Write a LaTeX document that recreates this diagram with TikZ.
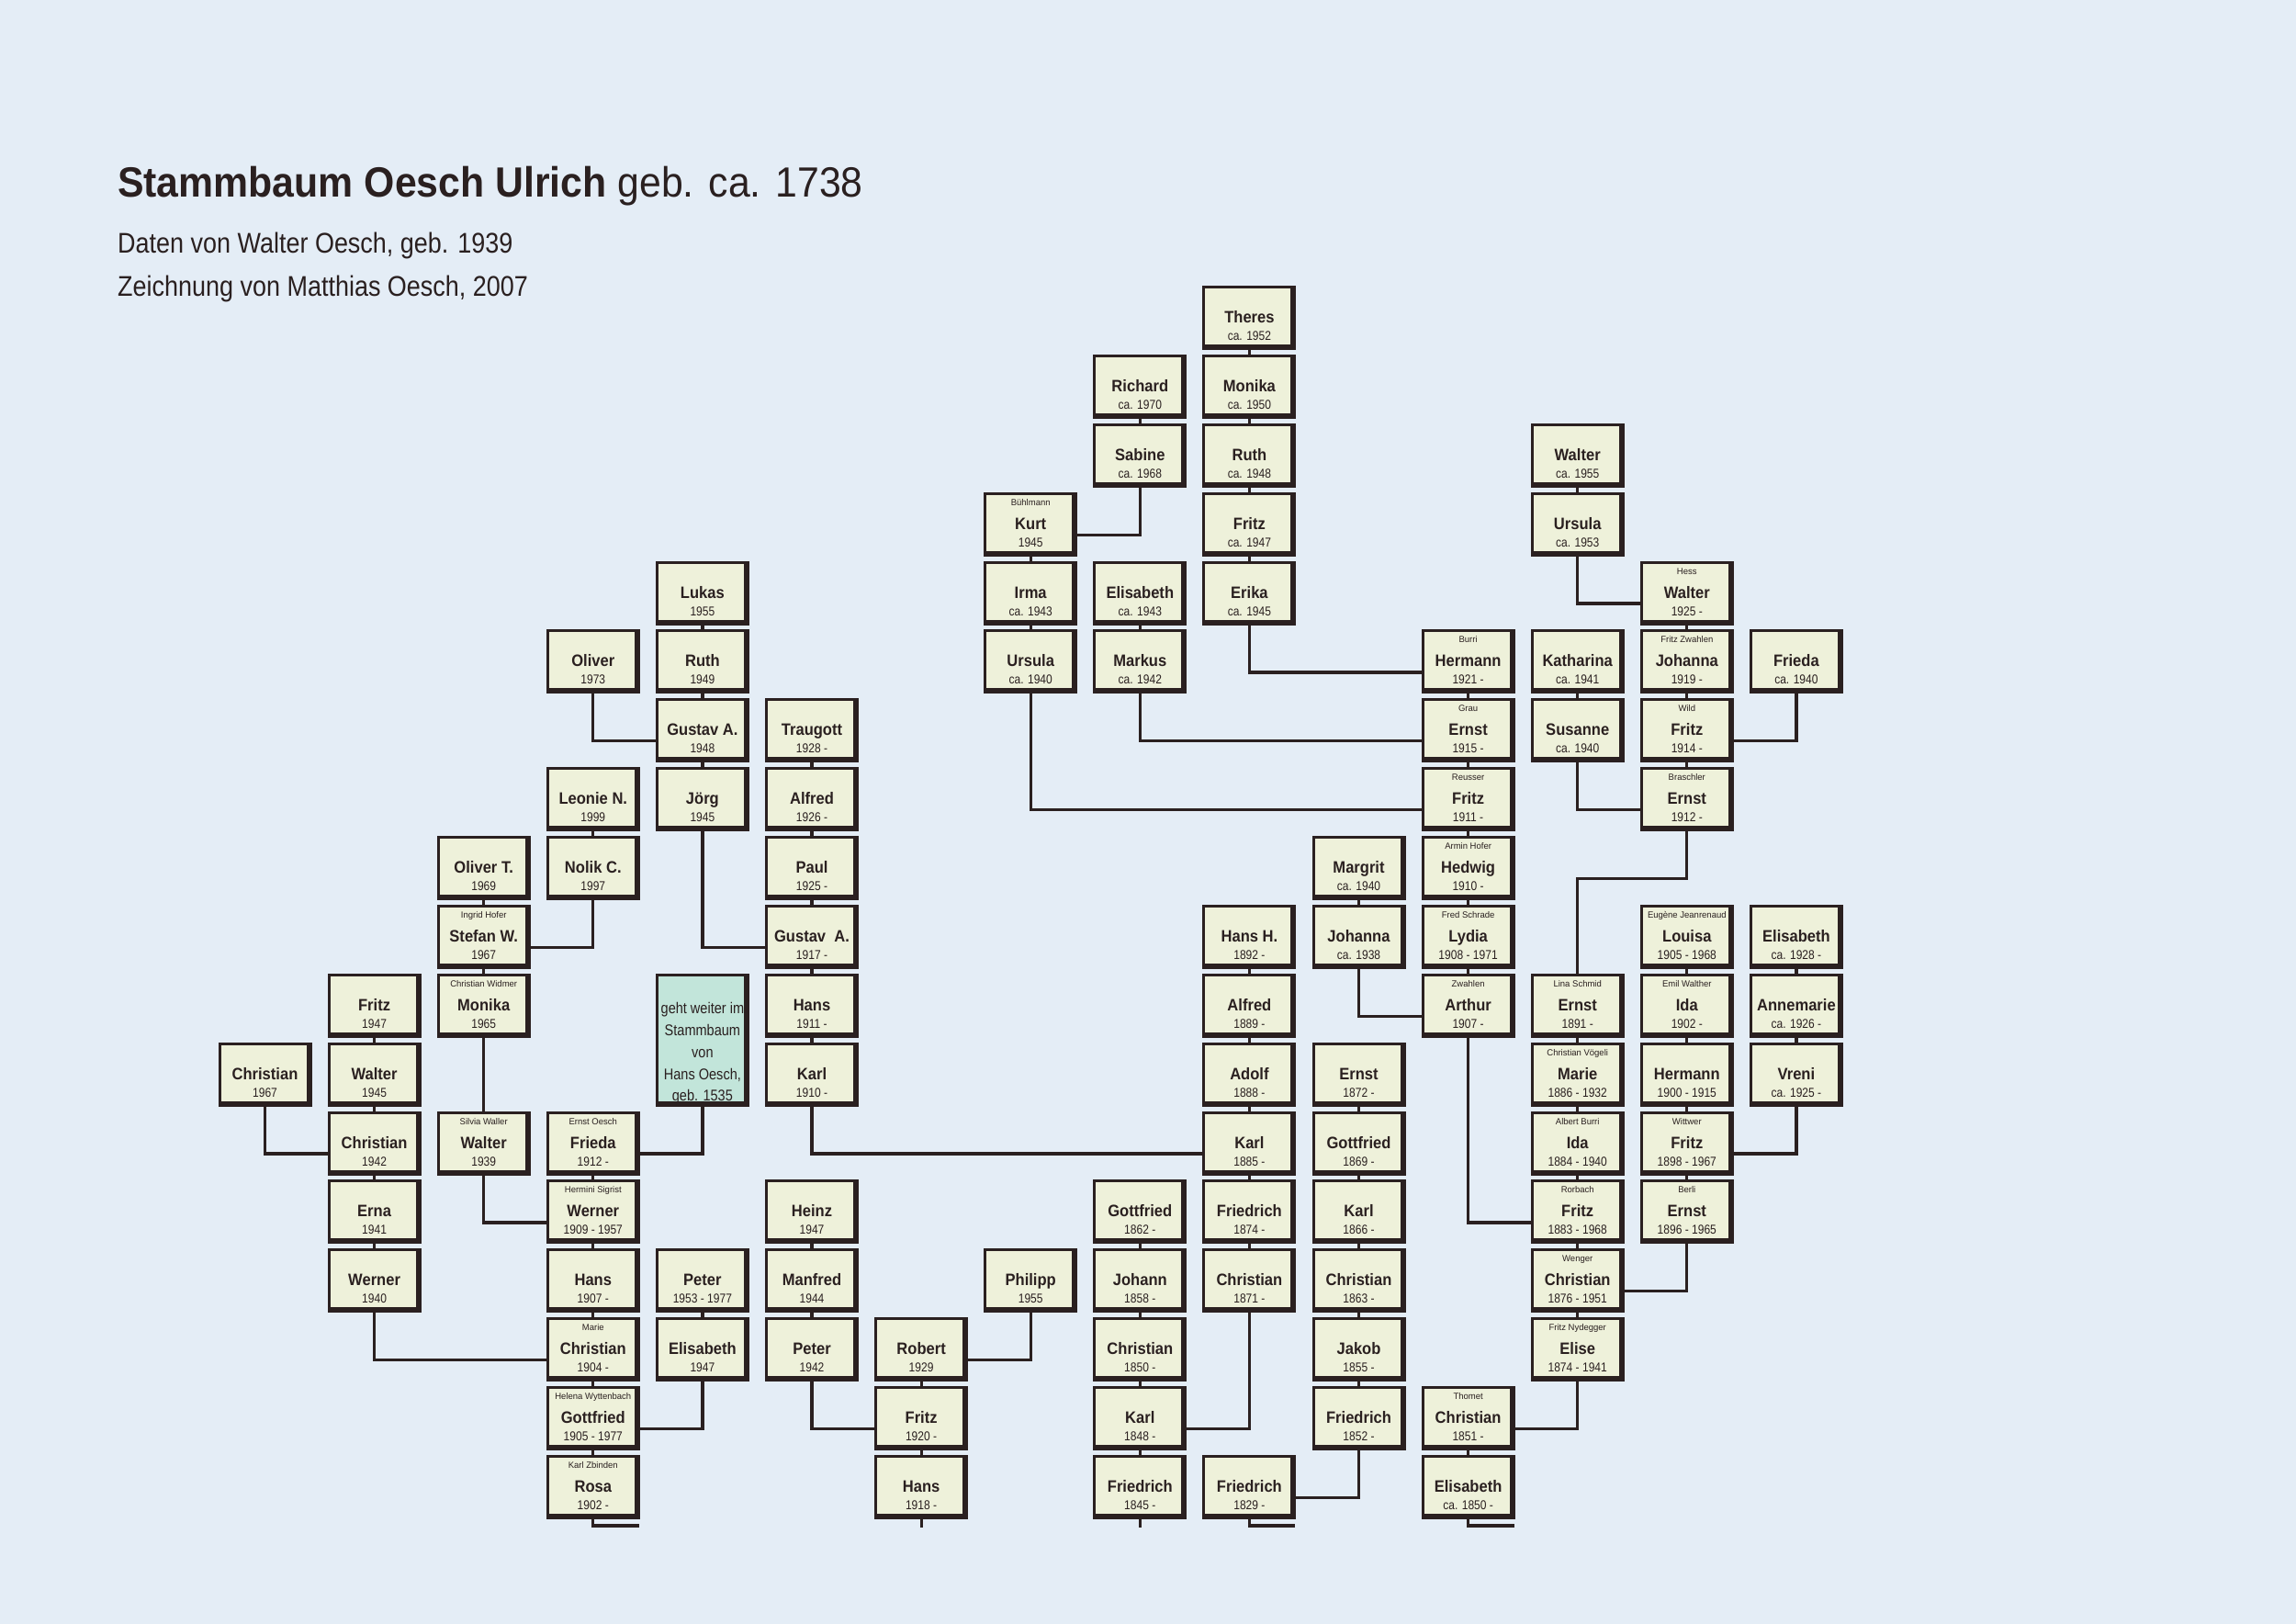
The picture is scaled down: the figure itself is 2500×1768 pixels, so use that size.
\documentclass[tikz,border=0pt]{standalone}
\usepackage{fontspec}
\setmainfont{Liberation Sans}[FakeStretch=0.86]
\newfontfamily\fname{Liberation Sans}[FakeStretch=0.92]
\newfontfamily\flabel{Liberation Sans}[FakeStretch=0.98]
\newfontfamily\ftitle{Liberation Sans}[FakeStretch=0.93]
\newfontfamily\fsubt{Liberation Sans}[FakeStretch=0.87]
\usetikzlibrary{backgrounds}
\definecolor{pagebg}{HTML}{E4EDF6}
\definecolor{boxfill}{HTML}{EEF1DA}
\definecolor{framecol}{HTML}{2A2020}
\definecolor{tealfill}{HTML}{C2E5DA}
\tikzset{
  pbox/.style={draw=framecol, line width=3pt, fill=boxfill, minimum width=99pt, minimum height=67pt, inner sep=0pt,
    path picture={
      \fill[framecol] ([xshift=-4.5pt]path picture bounding box.north east) rectangle (path picture bounding box.south east);
      \fill[framecol] ([yshift=4.5pt]path picture bounding box.south west) rectangle (path picture bounding box.south east);
    }},
  tbox/.style={pbox, fill=tealfill, minimum height=141.9pt},
  lbl/.style={font=\flabel\fontsize{9.7}{9.7}\selectfont, anchor=base, inner sep=0pt, text=framecol},
  nm/.style={font=\fname\bfseries\fontsize{18}{18}\selectfont, anchor=base, inner sep=0pt, text=framecol},
  yr/.style={font=\fontsize{14}{14}\selectfont, anchor=base, inner sep=0pt, text=framecol},
  conn/.style={draw=framecol, line width=3.2pt},
}
\newcommand\person[6]{%
  \node[pbox] (#1) at ({288.5+119.1*#2},{346+74.88*#3}) {};
  \node[lbl] (#1-l) at ([yshift=20.5pt]#1.center) {#4};
  \node[nm] (#1-n) at ([yshift=-5.5pt]#1.center) {#5};
  \node[yr] (#1-y) at ([yshift=-24.5pt]#1.center) {#6};
}
\begin{document}
\begin{tikzpicture}[x=1pt,y=-1pt]
\useasboundingbox (0,0) rectangle (2500,1768);
\begin{scope}[on background layer]
  \fill[pagebg] (0,0) rectangle (2500,1768);
\end{scope}
% title
\node[anchor=base west, inner sep=0pt, text=framecol, font=\ftitle\fontsize{46}{46}\selectfont] (title) at (128,215) {\textbf{Stammbaum Oesch Ulrich} geb. ca. 1738};
\node[anchor=base west, inner sep=0pt, text=framecol, font=\fsubt\fontsize{31}{31}\selectfont] (sub1) at (128,276) {Daten von Walter Oesch, geb. 1939};
\node[anchor=base west, inner sep=0pt, text=framecol, font=\fsubt\fontsize{31}{31}\selectfont] (sub2) at (128,323) {Zeichnung von Matthias Oesch, 2007};

% column 9 top
\person{theres}{9}{0}{}{Theres}{ca. 1952}
\person{monika50}{9}{1}{}{Monika}{ca. 1950}
\person{ruth48}{9}{2}{}{Ruth}{ca. 1948}
\person{fritz47}{9}{3}{}{Fritz}{ca. 1947}
\person{erika}{9}{4}{}{Erika}{ca. 1945}
% column 8 top
\person{richard}{8}{1}{}{Richard}{ca. 1970}
\person{sabine}{8}{2}{}{Sabine}{ca. 1968}
\person{elis43}{8}{4}{}{Elisabeth}{ca. 1943}
\person{markus}{8}{5}{}{Markus}{ca. 1942}
% column 7 top
\person{kurt}{7}{3}{Bühlmann}{Kurt}{1945}
\person{irma}{7}{4}{}{Irma}{ca. 1943}
\person{urs40}{7}{5}{}{Ursula}{ca. 1940}
% column 12 top
\person{walt55}{12}{2}{}{Walter}{ca. 1955}
\person{urs53}{12}{3}{}{Ursula}{ca. 1953}
\person{kath}{12}{5}{}{Katharina}{ca. 1941}
\person{sus}{12}{6}{}{Susanne}{ca. 1940}
% column 13 top
\person{hess}{13}{4}{Hess}{Walter}{1925 -}
\person{joh19}{13}{5}{Fritz Zwahlen}{Johanna}{1919 -}
\person{wild}{13}{6}{Wild}{Fritz}{1914 -}
\person{brasch}{13}{7}{Braschler}{Ernst}{1912 -}
\person{frieda40}{14}{5}{}{Frieda}{ca. 1940}
% column 11
\person{burri}{11}{5}{Burri}{Hermann}{1921 -}
\person{grau}{11}{6}{Grau}{Ernst}{1915 -}
\person{reusser}{11}{7}{Reusser}{Fritz}{1911 -}
\person{hedwig}{11}{8}{Armin Hofer}{Hedwig}{1910 -}
\person{lydia}{11}{9}{Fred Schrade}{Lydia}{1908 - 1971}
\person{arthur}{11}{10}{Zwahlen}{Arthur}{1907 -}
\person{thomet}{11}{16}{Thomet}{Christian}{1851 -}
\person{elis50}{11}{17}{}{Elisabeth}{ca. 1850 -}
% column 10
\person{margrit}{10}{8}{}{Margrit}{ca. 1940}
\person{joh38}{10}{9}{}{Johanna}{ca. 1938}
\person{ernst72}{10}{11}{}{Ernst}{1872 -}
\person{gott69}{10}{12}{}{Gottfried}{1869 -}
\person{karl66}{10}{13}{}{Karl}{1866 -}
\person{chr63}{10}{14}{}{Christian}{1863 -}
\person{jakob}{10}{15}{}{Jakob}{1855 -}
\person{fried52}{10}{16}{}{Friedrich}{1852 -}
% column 9 lower
\person{hansh}{9}{9}{}{Hans H.}{1892 -}
\person{alfred89}{9}{10}{}{Alfred}{1889 -}
\person{adolf}{9}{11}{}{Adolf}{1888 -}
\person{karl85}{9}{12}{}{Karl}{1885 -}
\person{fried74}{9}{13}{}{Friedrich}{1874 -}
\person{chr71}{9}{14}{}{Christian}{1871 -}
\person{fried29}{9}{17}{}{Friedrich}{1829 -}
% column 8 lower
\person{gott62}{8}{13}{}{Gottfried}{1862 -}
\person{johann}{8}{14}{}{Johann}{1858 -}
\person{chr50}{8}{15}{}{Christian}{1850 -}
\person{karl48}{8}{16}{}{Karl}{1848 -}
\person{fried45}{8}{17}{}{Friedrich}{1845 -}
% column 12 lower
\person{ernst91}{12}{10}{Lina Schmid}{Ernst}{1891 -}
\person{marie}{12}{11}{Christian Vögeli}{Marie}{1886 - 1932}
\person{ida84}{12}{12}{Albert Burri}{Ida}{1884 - 1940}
\person{rorbach}{12}{13}{Rorbach}{Fritz}{1883 - 1968}
\person{wenger}{12}{14}{Wenger}{Christian}{1876 - 1951}
\person{elise}{12}{15}{Fritz Nydegger}{Elise}{1874 - 1941}
% column 13 lower
\person{louisa}{13}{9}{Eugène Jeanrenaud}{Louisa}{1905 - 1968}
\person{ida02}{13}{10}{Emil Walther}{Ida}{1902 -}
\person{herm00}{13}{11}{}{Hermann}{1900 - 1915}
\person{wittwer}{13}{12}{Wittwer}{Fritz}{1898 - 1967}
\person{berli}{13}{13}{Berli}{Ernst}{1896 - 1965}
% column 14 lower
\person{elis28}{14}{9}{}{Elisabeth}{ca. 1928 -}
\person{annem}{14}{10}{}{Annemarie}{ca. 1926 -}
\person{vreni}{14}{11}{}{Vreni}{ca. 1925 -}
% column 4
\person{lukas}{4}{4}{}{Lukas}{1955}
\person{ruth49}{4}{5}{}{Ruth}{1949}
\person{gus48}{4}{6}{}{Gustav A.}{1948}
\person{joerg}{4}{7}{}{Jörg}{1945}
\person{peter53}{4}{14}{}{Peter}{1953 - 1977}
\person{elis47}{4}{15}{}{Elisabeth}{1947}
\node[tbox] (teal) at ({288.5+119.1*4},{346+74.88*10.5}) {};
\node[align=center, inner sep=0pt, text=framecol, font=\fontsize{16.9}{23.8}\selectfont] (teal-t) at ({288.5+119.1*4},1147) {geht weiter im\\Stammbaum\\von\\Hans Oesch,\\geb. 1535};
% column 3
\person{oliver}{3}{5}{}{Oliver}{1973}
\person{leonie}{3}{7}{}{Leonie N.}{1999}
\person{nolik}{3}{8}{}{Nolik C.}{1997}
\person{frieda12}{3}{12}{Ernst Oesch}{Frieda}{1912 -}
\person{werner09}{3}{13}{Hermini Sigrist}{Werner}{1909 - 1957}
\person{hans07}{3}{14}{}{Hans}{1907 -}
\person{chr04}{3}{15}{Marie}{Christian}{1904 -}
\person{gott05}{3}{16}{Helena Wyttenbach}{Gottfried}{1905 - 1977}
\person{rosa}{3}{17}{Karl Zbinden}{Rosa}{1902 -}
% column 2
\person{olivert}{2}{8}{}{Oliver T.}{1969}
\person{stefan}{2}{9}{Ingrid Hofer}{Stefan W.}{1967}
\person{monika65}{2}{10}{Christian Widmer}{Monika}{1965}
\person{walter39}{2}{12}{Silvia Waller}{Walter}{1939}
% column 1
\person{fritz47b}{1}{10}{}{Fritz}{1947}
\person{walter45}{1}{11}{}{Walter}{1945}
\person{chr42}{1}{12}{}{Christian}{1942}
\person{erna}{1}{13}{}{Erna}{1941}
\person{werner40}{1}{14}{}{Werner}{1940}
% column 0
\person{chr67}{0}{11}{}{Christian}{1967}
% column 5
\person{traug}{5}{6}{}{Traugott}{1928 -}
\person{alfred26}{5}{7}{}{Alfred}{1926 -}
\person{paul}{5}{8}{}{Paul}{1925 -}
\person{gus17}{5}{9}{}{Gustav\ \ A.}{1917 -}
\person{hans11}{5}{10}{}{Hans}{1911 -}
\person{karl10}{5}{11}{}{Karl}{1910 -}
\person{heinz}{5}{13}{}{Heinz}{1947}
\person{manfred}{5}{14}{}{Manfred}{1944}
\person{peter42}{5}{15}{}{Peter}{1942}
% column 6
\person{robert}{6}{15}{}{Robert}{1929}
\person{fritz20}{6}{16}{}{Fritz}{1920 -}
\person{hans18}{6}{17}{}{Hans}{1918 -}
% column 7 lower
\person{philipp}{7}{14}{}{Philipp}{1955}

\coordinate (bend1) at ({288.5+119.1*12},{346+74.88*8+11.5});

\begin{scope}[on background layer]
  % stacked pairs
  \foreach \a/\b in {theres/monika50, monika50/ruth48, ruth48/fritz47, fritz47/erika,
      richard/sabine, elis43/markus, kurt/irma, irma/urs40,
      walt55/urs53, kath/sus, hess/joh19, joh19/wild, wild/brasch,
      burri/grau, grau/reusser, reusser/hedwig, hedwig/lydia, lydia/arthur,
      margrit/joh38,
      hansh/alfred89, alfred89/adolf, adolf/karl85, karl85/fried74, fried74/chr71,
      ernst72/gott69, gott69/karl66, karl66/chr63, chr63/jakob, jakob/fried52,
      gott62/johann, johann/chr50, chr50/karl48, karl48/fried45,
      ernst91/marie, marie/ida84, ida84/rorbach, rorbach/wenger, wenger/elise,
      thomet/elis50,
      louisa/ida02, ida02/herm00, herm00/wittwer, wittwer/berli,
      elis28/annem, annem/vreni,
      lukas/ruth49, ruth49/gus48, gus48/joerg, peter53/elis47,
      leonie/nolik, frieda12/werner09, werner09/hans07, hans07/chr04, chr04/gott05, gott05/rosa,
      olivert/stefan, stefan/monika65, monika65/walter39,
      fritz47b/walter45, walter45/chr42, chr42/erna, erna/werner40,
      traug/alfred26, alfred26/paul, paul/gus17, gus17/hans11, hans11/karl10,
      heinz/manfred, manfred/peter42, robert/fritz20, fritz20/hans18}
    {\draw[conn] (\a.south) -- (\b.north);}
  % elbow connectors to the west side
  \foreach \a/\b in {urs40/reusser, markus/grau, erika/burri, urs53/hess, sus/brasch,
      joh38/arthur, arthur/rorbach, karl10/karl85, joerg/gus17, oliver/gus48,
      walter39/werner09, werner40/chr04, chr67/chr42, peter42/fritz20}
    {\draw[conn] (\a.south) |- ([yshift=-11.5pt]\b.west);}
  % elbow connectors to the east side
  \foreach \a/\b in {sabine/kurt, frieda40/wild, elise/thomet, berli/wenger, vreni/wittwer,
      chr71/karl48, fried52/fried29, nolik/stefan, teal/frieda12, elis47/gott05, philipp/robert}
    {\draw[conn] (\a.south) |- ([yshift=-11.5pt]\b.east);}
  \draw[conn] (brasch.south) |- (bend1) -- (ernst91.north);
  % bottom stubs
  \draw[conn] (rosa.south) -- ++(0,7) -- ++(50,0);
  \draw[conn] (fried29.south) -- ++(0,7) -- ++(50,0);
  \draw[conn] (elis50.south) -- ++(0,7) -- ++(50,0);
  \draw[conn] (hans18.south) -- ++(0,9);
  \draw[conn] (fried45.south) -- ++(0,9);
\end{scope}
\end{tikzpicture}
\end{document}
